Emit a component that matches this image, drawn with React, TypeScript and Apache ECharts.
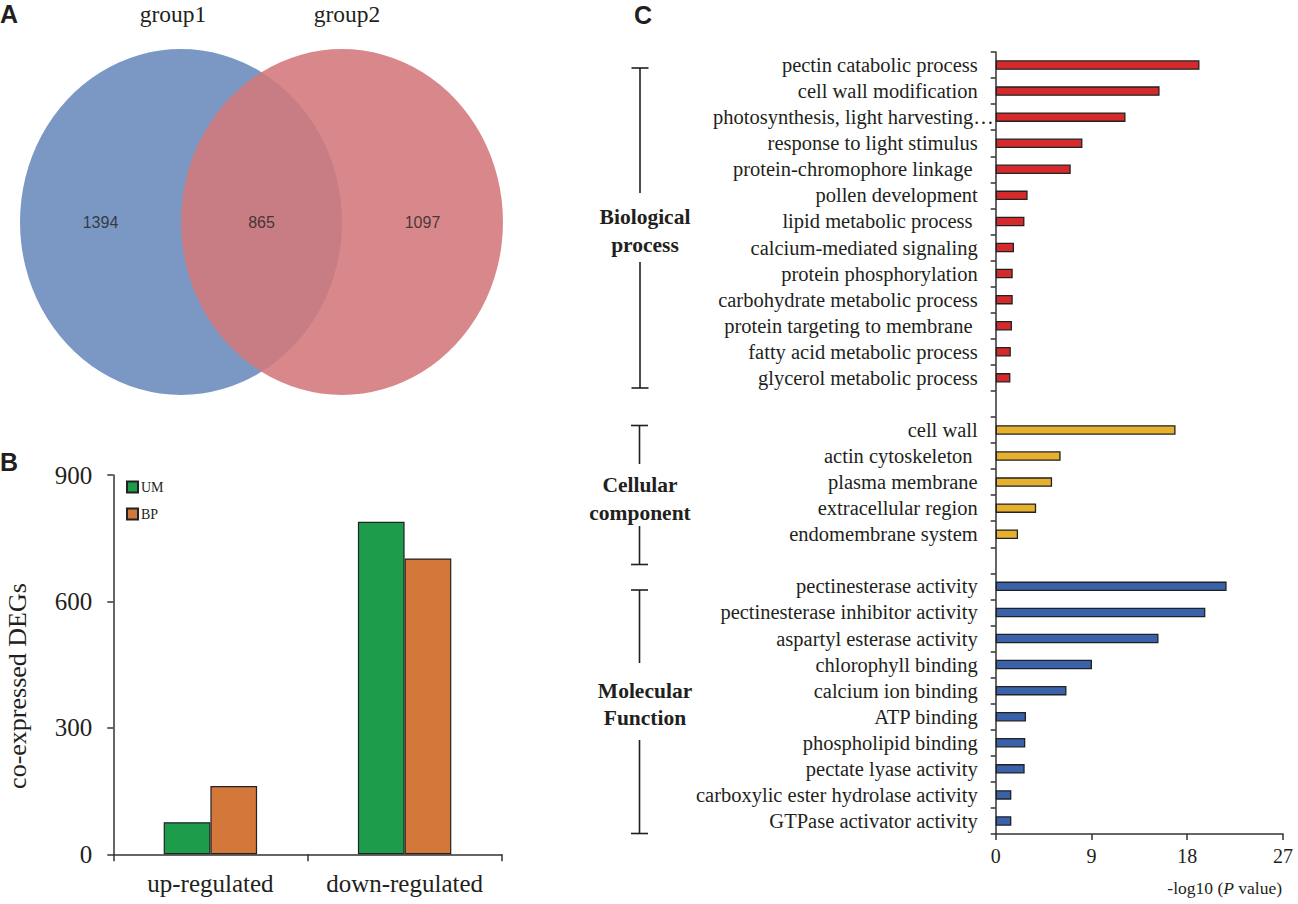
import React, { useEffect, useRef } from "react";
import * as echarts from "echarts";

// ---------- Panel A: Venn ----------
const vennSets = ["group1", "group2"];
const vennCounts = [1394, 865, 1097]; // group1 only, shared, group2 only

// ---------- Panel B: co-expressed DEGs ----------
const degCategories = ["up-regulated", "down-regulated"];
const degSeriesNames = ["UM", "BP"];
const degUM = [76, 789];
const degBP = [162, 702];
const degTicks = [0, 300, 600, 900];

// ---------- Panel C: GO enrichment ----------
const bpTerms = [
  "pectin catabolic process",
  "cell wall modification",
  "photosynthesis, light harvesting…",
  "response to light stimulus",
  "protein-chromophore linkage ",
  "pollen development",
  "lipid metabolic process ",
  "calcium-mediated signaling",
  "protein phosphorylation",
  "carbohydrate metabolic process",
  "protein targeting to membrane ",
  "fatty acid metabolic process",
  "glycerol metabolic process",
];
const bpValues = [19.15, 15.4, 12.2, 8.15, 7.05, 3.0, 2.7, 1.72, 1.6, 1.6, 1.53, 1.42, 1.38];
const ccTerms = [
  "cell wall",
  "actin cytoskeleton ",
  "plasma membrane",
  "extracellular region",
  "endomembrane system",
];
const ccValues = [16.9, 6.1, 5.3, 3.8, 2.1];
const mfTerms = [
  "pectinesterase activity",
  "pectinesterase inhibitor activity",
  "aspartyl esterase activity",
  "chlorophyll binding",
  "calcium ion binding",
  "ATP binding",
  "phospholipid binding",
  "pectate lyase activity",
  "carboxylic ester hydrolase activity",
  "GTPase activator activity",
];
const mfValues = [21.7, 19.7, 15.3, 9.05, 6.65, 2.85, 2.78, 2.72, 1.47, 1.47];
const goTicks = [0, 9, 18, 27];

const SERIF = "'Liberation Serif', 'Times New Roman', serif";
const SANS = "'Liberation Sans', Arial, sans-serif";
const INK = "#231f20";

export default function App() {
  const ref = useRef<HTMLDivElement>(null);

  useEffect(() => {
    if (!ref.current) return;
    const chart = echarts.init(ref.current, null, { renderer: "svg" });

    const groupColors = ["#d42a2c", "#e5b12f", "#3a62ab"];
    const goCats: any[] = [];
    const goData: any[] = [];
    const pushGroup = (terms: string[], vals: number[], color: string) => {
      terms.forEach((t, i) => {
        if (t.endsWith("…")) {
          goCats.push({ value: t, textStyle: { padding: [0, -16, 0, 0] } });
        } else {
          goCats.push(t);
        }
        goData.push({ value: vals[i], itemStyle: { color } });
      });
    };
    pushGroup(bpTerms, bpValues, groupColors[0]);
    goCats.push(" ");
    goData.push("-");
    pushGroup(ccTerms, ccValues, groupColors[1]);
    goCats.push("  ");
    goData.push("-");
    pushGroup(mfTerms, mfValues, groupColors[2]);

    const line = (x1: number, y1: number, x2: number, y2: number) => ({
      type: "line",
      shape: { x1, y1, x2, y2 },
      style: { stroke: INK, lineWidth: 1.6 },
      silent: true,
    });
    const bracket = (xc: number, top: number, gapTop: number, gapBot: number, bottom: number) => [
      line(xc, top, xc, gapTop),
      line(xc - 8.5, top, xc + 8.5, top),
      line(xc, gapBot, xc, bottom),
      line(xc - 8.5, bottom, xc + 8.5, bottom),
    ];
    const textEl = (
      text: string,
      x: number,
      y: number,
      font: string,
      size: number,
      weight: string = "normal",
      align: string = "center",
      extra: any = {}
    ) => ({
      type: "text",
      x,
      y,
      silent: true,
      ...extra,
      style: {
        text,
        fontFamily: font,
        fontSize: size,
        fontWeight: weight,
        fill: INK,
        align,
        textAlign: align,
        verticalAlign: "middle",
        textVerticalAlign: "middle",
        lineHeight: size * 1.3,
        ...(extra.style || {}),
      },
    });

    const option: any = {
      animation: false,
      backgroundColor: "#ffffff",
      grid: [
        { left: 20, top: 49, width: 483, height: 346 },
        { left: 113.3, top: 475, width: 388.4, height: 379.3 },
        { left: 995.7, top: 52, width: 287.3, height: 782 },
      ],
      xAxis: [
        { gridIndex: 0, type: "value", min: -1, max: 2, show: false },
        {
          gridIndex: 1,
          type: "category",
          data: degCategories,
          axisLine: { lineStyle: { color: "#333", width: 1.5 } },
          axisTick: { show: true, length: 7, lineStyle: { color: "#333", width: 1.5 } },
          axisLabel: { fontFamily: SERIF, fontSize: 25, color: INK, margin: 17, interval: 0 },
        },
        {
          gridIndex: 2,
          type: "value",
          min: goTicks[0],
          max: goTicks[goTicks.length - 1],
          interval: goTicks[1] - goTicks[0],
          axisLine: { show: true, lineStyle: { color: "#333", width: 1.5 } },
          axisTick: { show: true, length: 6, lineStyle: { color: "#333", width: 1.5 } },
          axisLabel: { fontFamily: SERIF, fontSize: 20, color: INK, margin: 12 },
          splitLine: { show: false },
        },
      ],
      yAxis: [
        { gridIndex: 0, type: "value", min: 0, max: 1, show: false },
        {
          gridIndex: 1,
          type: "value",
          min: degTicks[0],
          max: degTicks[degTicks.length - 1],
          interval: degTicks[1] - degTicks[0],
          axisLine: { show: true, lineStyle: { color: "#333", width: 1.5 } },
          axisTick: { show: true, length: 6, lineStyle: { color: "#333", width: 1.5 } },
          axisLabel: { fontFamily: SERIF, fontSize: 25, color: INK, margin: 21 },
          splitLine: { show: false },
        },
        {
          gridIndex: 2,
          type: "category",
          inverse: true,
          data: goCats,
          axisLine: { lineStyle: { color: "#333", width: 1.5 } },
          axisTick: { show: true, length: 5, lineStyle: { color: "#333", width: 1.5 } },
          axisLabel: { fontFamily: SERIF, fontSize: 20.5, color: INK, margin: 18, interval: 0 },
        },
      ],
      legend: {
        data: degSeriesNames,
        orient: "vertical",
        left: 126,
        top: 480,
        padding: 0,
        itemWidth: 11,
        itemHeight: 11,
        itemGap: 13,
        icon: "rect",
        textStyle: { fontFamily: SERIF, fontSize: 14, color: INK, padding: [2, 0, 0, -2] },
        selectedMode: false,
      },
      series: [
        {
          type: "scatter",
          xAxisIndex: 0,
          yAxisIndex: 0,
          silent: true,
          symbol: "circle",
          symbolSize: [322, 346],
          data: [
            { value: [0, 0.5], name: vennSets[0], itemStyle: { color: "#7b98c5", opacity: 1 } },
            { value: [1, 0.5], name: vennSets[1], itemStyle: { color: "rgb(211,119,122)", opacity: 0.88 } },
          ],
          z: 1,
        },
        {
          type: "scatter",
          xAxisIndex: 0,
          yAxisIndex: 0,
          silent: true,
          symbolSize: 1,
          itemStyle: { color: "rgba(0,0,0,0)" },
          label: {
            show: true,
            position: "inside",
            formatter: (p: any) => String(p.value[2]),
            fontFamily: SANS,
            fontSize: 16,
            color: "#222",
          },
          data: [
            [-0.5, 0.5, vennCounts[0]],
            [0.5, 0.5, vennCounts[1]],
            [1.5, 0.5, vennCounts[2]],
          ],
          z: 3,
        },
        {
          name: degSeriesNames[0],
          type: "bar",
          xAxisIndex: 1,
          yAxisIndex: 1,
          data: degUM,
          barWidth: 46.7,
          barGap: "0%",
          itemStyle: { color: "#1d9c4c", borderColor: "#222", borderWidth: 1.2 },
        },
        {
          name: degSeriesNames[1],
          type: "bar",
          xAxisIndex: 1,
          yAxisIndex: 1,
          data: degBP,
          barWidth: 46.7,
          barGap: "0%",
          itemStyle: { color: "#d4773a", borderColor: "#222", borderWidth: 1.2 },
        },
        {
          type: "bar",
          xAxisIndex: 2,
          yAxisIndex: 2,
          data: goData,
          barWidth: 9.5,
          itemStyle: { borderColor: "#222", borderWidth: 1.3 },
        },
      ],
      graphic: {
        elements: [
          textEl("A", 0, 14, SANS, 25, "bold", "left"),
          textEl("B", 0, 462, SANS, 25, "bold", "left"),
          textEl("C", 634, 15, SANS, 25, "bold", "left"),
          textEl(vennSets[0], 173, 14, SERIF, 23.5),
          textEl(vennSets[1], 347, 14, SERIF, 23.5),
          textEl("co-expressed DEGs", 17, 686, SERIF, 26, "normal", "center", { rotation: Math.PI / 2 }),
          ...bracket(640, 68, 193, 262, 388),
          textEl("Biological\nprocess", 645, 231, SERIF, 21.5, "bold"),
          ...bracket(639.5, 425.5, 464, 526, 564.5),
          textEl("Cellular\ncomponent", 640, 499, SERIF, 21.5, "bold"),
          ...bracket(639.5, 590, 663, 740, 833.5),
          textEl("Molecular\nFunction", 645, 704.5, SERIF, 21.5, "bold"),
          {
            type: "text",
            x: 1282,
            y: 888,
            silent: true,
            style: {
              text: "-log10 ({i|P} value)",
              fontFamily: SERIF,
              fontSize: 17.5,
              fill: INK,
              align: "right",
              textAlign: "right",
              verticalAlign: "middle",
              textVerticalAlign: "middle",
              rich: { i: { fontStyle: "italic", fontFamily: SERIF, fontSize: 17.5, fill: INK } },
            },
          },
        ],
      },
    };

    chart.setOption(option);
    return () => chart.dispose();
  }, []);

  return (
    <div
      ref={ref}
      style={{ position: "absolute", left: 0, top: 0, width: 1298, height: 904, background: "#fff" }}
    />
  );
}
